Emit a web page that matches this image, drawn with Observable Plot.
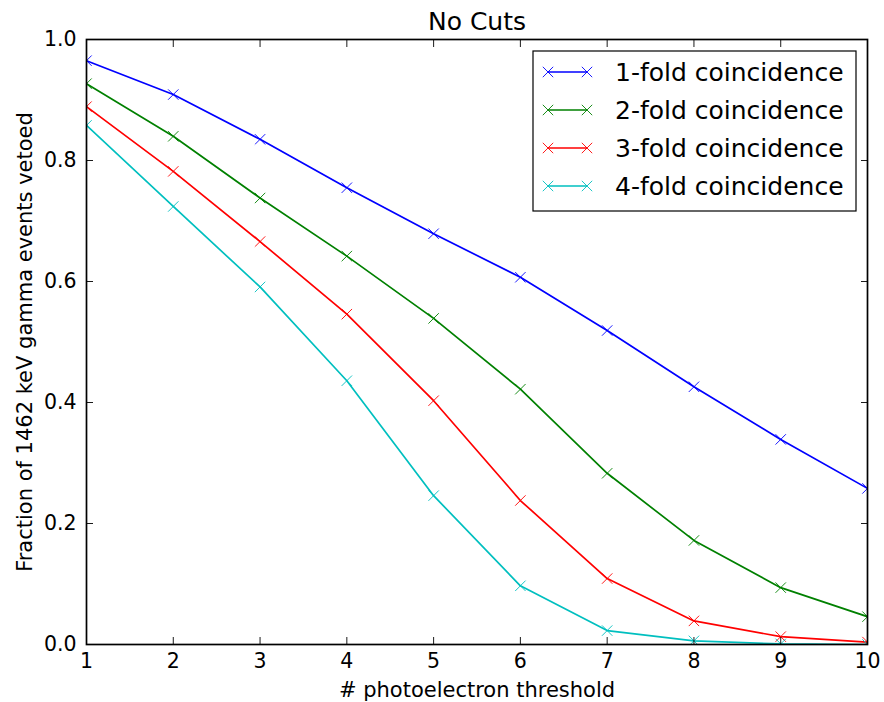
<!DOCTYPE html>
<html>
<head>
<meta charset="utf-8">
<script src="https://cdn.jsdelivr.net/npm/d3@7"></script>
<script src="https://cdn.jsdelivr.net/npm/@observablehq/plot@0.6"></script>
<style>
  html, body { margin: 0; padding: 0; background: #fff; }
  #chart { width: 884px; height: 702px; }
</style>
</head>
<body>
<div id="chart"></div>
<script>
const titleText = "No Cuts";
const xLabel = "# photoelectron threshold";
const yLabel = "Fraction of 1462 keV gamma events vetoed";
const thresholds = [1, 2, 3, 4, 5, 6, 7, 8, 9, 10];
const xTicks = [1, 2, 3, 4, 5, 6, 7, 8, 9, 10];
const yTicks = [0, 0.2, 0.4, 0.6, 0.8, 1.0];
const seriesNames = ["1-fold coincidence", "2-fold coincidence", "3-fold coincidence", "4-fold coincidence"];
const seriesColors = ["#0000ff", "#008000", "#ff0000", "#00bfbf"];
const fold1 = [0.965, 0.909, 0.835, 0.755, 0.679, 0.607, 0.519, 0.426, 0.339, 0.258];
const fold2 = [0.927, 0.840, 0.738, 0.642, 0.539, 0.422, 0.283, 0.172, 0.094, 0.046];
const fold3 = [0.889, 0.782, 0.666, 0.546, 0.403, 0.238, 0.109, 0.039, 0.013, 0.004];
const fold4 = [0.858, 0.724, 0.591, 0.436, 0.246, 0.097, 0.023, 0.006, 0.001, 0.000];

const allSeries = [fold1, fold2, fold3, fold4];
const data = [];
allSeries.forEach((vals, s) => {
  vals.forEach((v, i) => data.push({series: seriesNames[s], x: thresholds[i], y: v}));
});

const font = "DejaVu Sans";
const tickFont = 20.5;
const labelFont = 21;

const chart = Plot.plot({
  width: 884,
  height: 702,
  marginLeft: 86,
  marginRight: 17,
  marginTop: 39,
  marginBottom: 58,
  style: {fontFamily: font, fontSize: tickFont + "px", color: "black", background: "white"},
  x: {domain: [1, 10]},
  y: {domain: [0, 1]},
  color: {domain: seriesNames, range: seriesColors},
  marks: [
    Plot.line(data, {x: "x", y: "y", z: "series", stroke: "series", strokeWidth: 1.7, clip: true}),
    Plot.dot(data, {x: "x", y: "y", stroke: "series", symbol: "times", r: 4.8, strokeWidth: 0.9, clip: true}),
    Plot.axisX({anchor: "bottom", ticks: xTicks, tickSize: -7, tickPadding: 16, tickFormat: d => String(d), fontSize: tickFont, label: null, strokeWidth: 0.9}),
    Plot.axisX({anchor: "top", ticks: xTicks, tickSize: -7, tickFormat: () => "", label: null, strokeWidth: 0.9}),
    Plot.axisY({anchor: "left", ticks: yTicks, tickSize: -7, tickPadding: 17, tickFormat: d3.format(".1f"), fontSize: tickFont, label: null, strokeWidth: 0.9}),
    Plot.axisY({anchor: "right", ticks: yTicks, tickSize: -7, tickFormat: () => "", label: null, strokeWidth: 0.9}),
    Plot.frame({stroke: "black", strokeWidth: 1.7}),
    Plot.text([titleText], {frameAnchor: "top", textAnchor: "middle", lineAnchor: "top", dy: -27.5, fontSize: 25, text: d => d, fill: "black"}),
    Plot.text([xLabel], {frameAnchor: "bottom", textAnchor: "middle", lineAnchor: "top", dy: 38, fontSize: labelFont, text: d => d, fill: "black"}),
    Plot.text([yLabel], {frameAnchor: "left", textAnchor: "middle", lineAnchor: "top", rotate: -90, dx: -69, fontSize: labelFont, text: d => d, fill: "black"})
  ]
});

document.getElementById("chart").appendChild(chart);

// Legend (matplotlib-style box in the upper right of the axes)
const svg = d3.select(chart);
const lg = svg.append("g").attr("font-family", font).attr("text-anchor", "start");
const box = {x: 533, y: 51, w: 323, h: 160};
lg.append("rect").attr("x", box.x).attr("y", box.y).attr("width", box.w).attr("height", box.h)
  .attr("fill", "white").attr("stroke", "black").attr("stroke-width", 1.2);
const sym = d3.symbol(d3.symbolTimes, 72);
seriesNames.forEach((name, i) => {
  const cy = 72 + i * 38;
  const g = lg.append("g");
  g.append("line").attr("x1", 548).attr("x2", 587).attr("y1", cy).attr("y2", cy)
    .attr("stroke", seriesColors[i]).attr("stroke-width", 1.7);
  [548, 587].forEach(px => {
    g.append("path").attr("d", sym()).attr("transform", `translate(${px},${cy})`)
      .attr("fill", "none").attr("stroke", seriesColors[i]).attr("stroke-width", 0.9);
  });
  g.append("text").attr("x", 615).attr("y", cy).attr("dy", "0.35em")
    .attr("text-anchor", "start").attr("font-size", 25).attr("fill", "black").text(name);
});
</script>
</body>
</html>
